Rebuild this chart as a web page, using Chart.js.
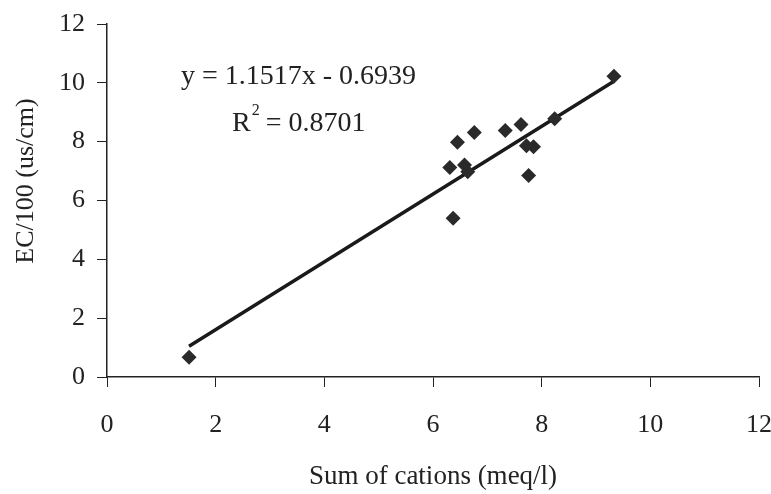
<!DOCTYPE html>
<html>
<head>
<meta charset="utf-8">
<script src="https://cdn.jsdelivr.net/npm/chart.js@4"></script>
<style>
  html, body { margin: 0; padding: 0; background: #fff; }
  #wrap { width: 771px; height: 494px; }
</style>
</head>
<body>
<div id="wrap"><canvas id="chart" width="771" height="494"></canvas></div>
<script>
// sum of cations (meq/l)
const cations = [1.51, 6.31, 6.37, 6.45, 6.58, 6.64, 6.76, 7.33, 7.62, 7.72, 7.76, 7.85, 8.24, 9.33];
// EC/100 (us/cm)
const ec = [0.67, 7.12, 5.40, 7.98, 7.21, 6.98, 8.31, 8.38, 8.58, 7.86, 6.85, 7.83, 8.78, 10.22];
const xTicks = [0, 2, 4, 6, 8, 10, 12];
const yTicks = [0, 2, 4, 6, 8, 10, 12];
const slope = 1.1517;
const intercept = -0.6939;
const eqText = 'y = 1.1517x - 0.6939';
const r2Text = '0.8701';
const yTitle = 'EC/100 (us/cm)';

const font = '"Liberation Serif", "Times New Roman", serif';

const points = cations.map((x, i) => ({ x: x, y: ec[i] }));
const xMin = Math.min(...cations);
const xMax = Math.max(...cations);
const trend = [
    { x: xMin, y: slope * xMin + intercept },
    { x: xMax, y: slope * xMax + intercept }
];

// equation label and the y axis title (sits a bit above centre in the original)
const labels = {
    id: 'labels',
    afterDraw(chart) {
        const ctx = chart.ctx;
        ctx.save();
        ctx.fillStyle = '#222';
        ctx.textBaseline = 'alphabetic';
        ctx.textAlign = 'left';
        ctx.font = '28px ' + font;
        ctx.fillText(eqText, 181, 84);
        ctx.fillText('R', 232, 131);
        const rw = ctx.measureText('R').width;
        ctx.font = '16px ' + font;
        ctx.fillText('2', 232 + rw + 1, 115);
        const sw = ctx.measureText('2').width;
        ctx.font = '28px ' + font;
        ctx.fillText(' = ' + r2Text, 232 + rw + sw, 131);

        ctx.translate(26, 181);
        ctx.rotate(-Math.PI / 2);
        ctx.textAlign = 'center';
        ctx.textBaseline = 'middle';
        ctx.font = '26px ' + font;
        ctx.fillText(yTitle, 0, 0);
        ctx.restore();
    }
};

new Chart(document.getElementById('chart'), {
    type: 'scatter',
    data: {
        datasets: [
            {
                label: 'data',
                data: points,
                pointStyle: 'rectRot',
                pointRadius: 7.5,
                pointBackgroundColor: '#2a2a2a',
                pointBorderColor: '#2a2a2a',
                pointBorderWidth: 0,
                showLine: false
            },
            {
                label: 'trend',
                data: trend,
                showLine: true,
                borderColor: '#1a1a1a',
                borderWidth: 3.5,
                pointRadius: 0,
                fill: false
            }
        ]
    },
    options: {
        responsive: false,
        animation: false,
        layout: { padding: { left: 0, right: 12, top: 24, bottom: 0 } },
        plugins: {
            legend: { display: false },
            tooltip: { enabled: false }
        },
        scales: {
            x: {
                type: 'linear',
                min: 0,
                max: 12,
                afterBuildTicks: (axis) => { axis.ticks = xTicks.map(v => ({ value: v })); },
                afterFit: (axis) => {
                    axis.height = 117;
                    axis.paddingRight = 0;
                    axis.paddingLeft = 0;
                },
                grid: {
                    drawOnChartArea: false,
                    drawTicks: true,
                    tickLength: 10,
                    color: '#222'
                },
                border: { color: '#222', width: 1.5 },
                ticks: {
                    color: '#222',
                    font: { family: font, size: 26 },
                    padding: 23
                },
                title: {
                    display: true,
                    text: 'Sum of cations (meq/l)',
                    color: '#222',
                    font: { family: font, size: 27 },
                    padding: { top: 0, bottom: 1 }
                }
            },
            y: {
                type: 'linear',
                min: 0,
                max: 12,
                afterBuildTicks: (axis) => { axis.ticks = yTicks.map(v => ({ value: v })); },
                afterFit: (axis) => {
                    axis.width = 107;
                    axis.paddingTop = 0;
                    axis.paddingBottom = 0;
                },
                grid: {
                    drawOnChartArea: false,
                    drawTicks: true,
                    tickLength: 10,
                    color: '#222'
                },
                border: { color: '#222', width: 1.5 },
                ticks: {
                    color: '#222',
                    font: { family: font, size: 26 },
                    padding: 12
                },
                title: { display: false }
            }
        }
    },
    plugins: [labels]
});
</script>
</body>
</html>
